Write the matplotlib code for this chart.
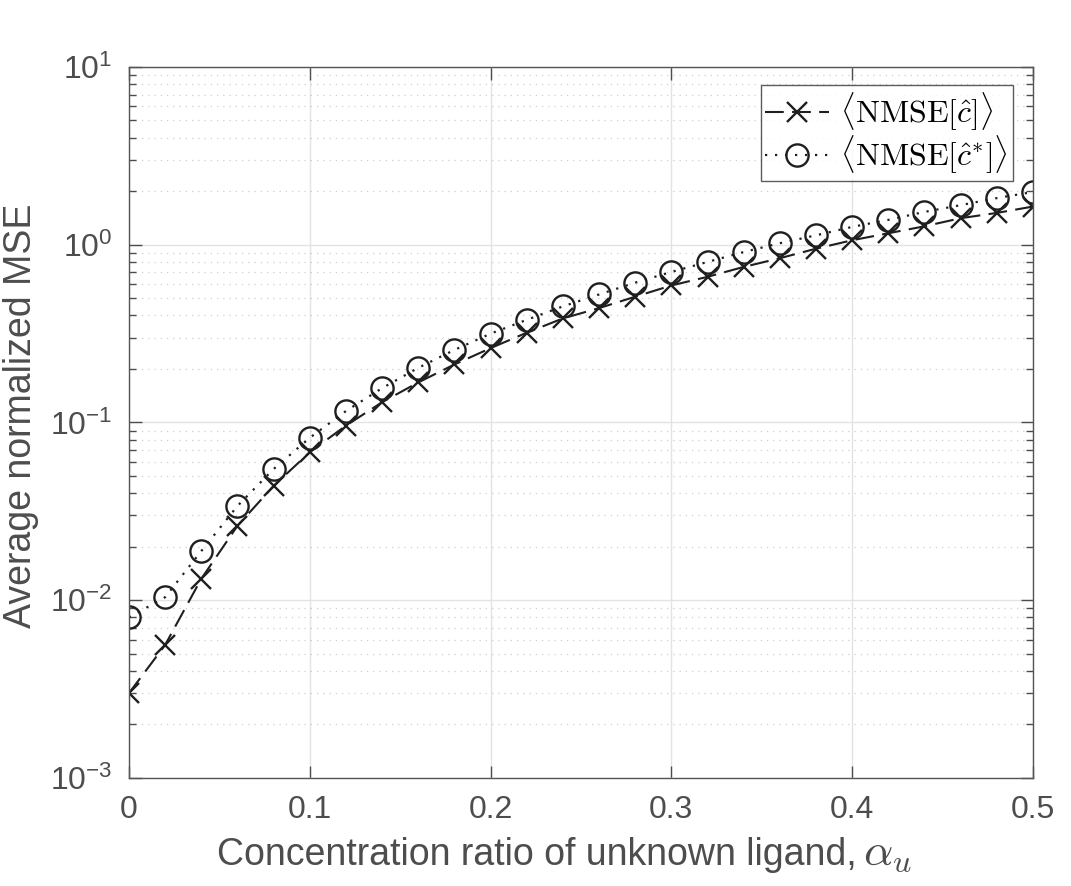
import numpy as np
import matplotlib
matplotlib.use('Agg')
import matplotlib.pyplot as plt
from matplotlib.ticker import LogLocator, NullFormatter, FixedLocator, FuncFormatter

# data
alpha = [0.00, 0.02, 0.04, 0.06, 0.08, 0.10, 0.12, 0.14, 0.16, 0.18, 0.20, 0.22, 0.24,
         0.26, 0.28, 0.30, 0.32, 0.34, 0.36, 0.38, 0.40, 0.42, 0.44, 0.46, 0.48, 0.50]
nmse_c = [0.0030, 0.0056, 0.0132, 0.0262, 0.044, 0.068, 0.096, 0.130, 0.168, 0.212,
          0.262, 0.320, 0.385, 0.44, 0.51, 0.59, 0.66, 0.75, 0.84, 0.95, 1.06, 1.16,
          1.27, 1.41, 1.51, 1.64]
nmse_cstar = [0.0080, 0.0104, 0.0189, 0.0339, 0.0547, 0.082, 0.116, 0.156, 0.203,
              0.256, 0.316, 0.378, 0.450, 0.525, 0.612, 0.703, 0.80, 0.91, 1.02,
              1.13, 1.26, 1.38, 1.53, 1.67, 1.83, 1.98]
xticks = [0, 0.1, 0.2, 0.3, 0.4, 0.5]
xticklabels = ['0', '0.1', '0.2', '0.3', '0.4', '0.5']

plt.rcParams['font.family'] = ['Liberation Sans', 'DejaVu Sans']
plt.rcParams['mathtext.fontset'] = 'cm'

txt = '#4d4d4d'
ln = '#1f1f1f'

fig = plt.figure(figsize=(10.71, 8.86), dpi=100)
ax = fig.add_axes([0.1204, 0.1219, 0.8441, 0.8025])

ax.semilogy(alpha, nmse_c, linestyle=(0, (9, 4)), color=ln, lw=1.5, marker='x',
            ms=14, mew=1.7, label=r'$\langle \mathrm{NMSE}[\hat{c}] \rangle$')
ax.semilogy(alpha, nmse_cstar, linestyle=(0, (1, 3.5)), color=ln, lw=1.6, marker='o',
            ms=16, mew=1.7, mfc='none', label=r'$\langle \mathrm{NMSE}[\hat{c}^{*}] \rangle$')

ax.set_xlim(0, 0.5)
ax.set_ylim(1e-3, 1e1)
ax.xaxis.set_major_locator(FixedLocator(xticks))
ax.set_xticklabels(xticklabels)
ax.yaxis.set_major_locator(LogLocator(base=10, numticks=10))
ax.yaxis.set_major_formatter(FuncFormatter(
    lambda v, p: r'$\mathregular{10^{%d}}$' % int(round(np.log10(v)))))
ax.yaxis.set_minor_locator(LogLocator(base=10, subs=np.arange(2, 10), numticks=20))
ax.yaxis.set_minor_formatter(NullFormatter())

ax.grid(True, which='major', color='#e3e3e3', lw=1.0)
ax.grid(True, which='minor', axis='y', color='#cfcfcf', lw=0.9, linestyle=(0, (1, 4)))
ax.set_axisbelow(True)

ax.tick_params(which='both', direction='in', top=True, right=True, colors=txt,
               width=1.0)
ax.tick_params(axis='x', labelsize=23)
ax.tick_params(axis='y', labelsize=23)
ax.tick_params(which='major', length=9, pad=12)
ax.tick_params(which='minor', length=5)
for s in ax.spines.values():
    s.set_color('#555555')
    s.set_linewidth(1.0)

# x label: text plus a larger math symbol
fig.text(0.800, 0.024, 'Concentration ratio of unknown ligand,', fontsize=27,
         color=txt, ha='right', va='baseline')
fig.text(0.806, 0.024, r'$\alpha_u$', fontsize=33, color=txt, ha='left',
         va='baseline')
ax.set_ylabel('Average normalized MSE', fontsize=27, color=txt)
ax.yaxis.set_label_coords(-0.100, 0.51)

leg = ax.legend(loc='upper right', bbox_to_anchor=(0.978, 0.974), fontsize=23,
                frameon=True, fancybox=False, edgecolor='#333333',
                handlelength=2.0, handletextpad=0.35, borderpad=0.15,
                labelspacing=0.02, borderaxespad=0.0)
leg.get_frame().set_linewidth(1.0)

fig.savefig('out.png', dpi=100)
